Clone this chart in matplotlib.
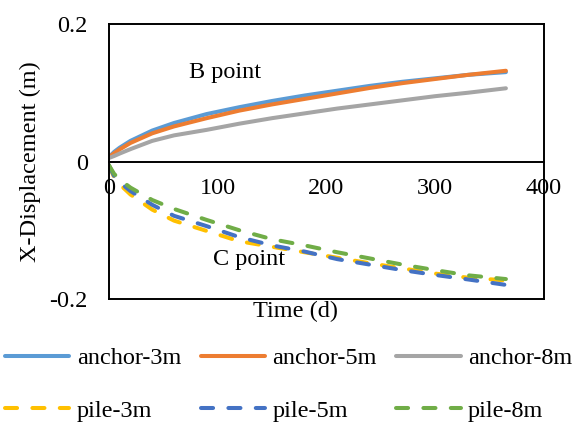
import matplotlib
matplotlib.use('Agg')
import matplotlib.pyplot as plt

plt.rcParams['font.family'] = ['Liberation Serif', 'DejaVu Serif']
plt.rcParams['font.size'] = 17.5

# Time (days) and X-displacement (m) at points B (anchor) and C (pile)
days = [0, 5, 10, 20, 40, 60, 90, 120, 150, 180, 210, 240, 270, 300, 330, 365]

anchor_3m = [0.006, 0.014, 0.020, 0.030, 0.045, 0.056, 0.069, 0.079, 0.088, 0.096,
             0.103, 0.110, 0.116, 0.121, 0.126, 0.130]
anchor_5m = [0.006, 0.012, 0.0175, 0.027, 0.041, 0.051, 0.063, 0.074, 0.083, 0.091,
             0.099, 0.107, 0.114, 0.120, 0.126, 0.132]
anchor_8m = [0.005, 0.008, 0.0115, 0.018, 0.030, 0.038, 0.046, 0.055, 0.063, 0.070,
             0.077, 0.083, 0.089, 0.095, 0.100, 0.1065]

pile_3m = [-0.005, -0.023, -0.033, -0.048, -0.070, -0.086, -0.101, -0.116, -0.124, -0.132,
           -0.140, -0.148, -0.1555, -0.163, -0.169, -0.173]
pile_5m = [-0.005, -0.021, -0.030, -0.043, -0.063, -0.079, -0.094, -0.110, -0.122, -0.131,
           -0.142, -0.150, -0.158, -0.165, -0.1715, -0.1795]
pile_8m = [-0.005, -0.018, -0.026, -0.038, -0.056, -0.069, -0.085, -0.100, -0.113, -0.122,
           -0.132, -0.141, -0.150, -0.158, -0.1655, -0.171]

x_ticks = [0, 100, 200, 300, 400]
y_ticks = [-0.2, 0, 0.2]
y_tick_labels = ['-0.2', '0', '0.2']

fig = plt.figure(figsize=(5.77, 4.22), dpi=100)
ax = fig.add_axes([108.7 / 577, 1 - 299 / 422, 435.3 / 577, 275 / 422])

lw = 2.9
ax.plot(days, anchor_3m, color='#5B9BD5', lw=lw, solid_capstyle='round', label='anchor-3m')
ax.plot(days, anchor_5m, color='#ED7D31', lw=lw, solid_capstyle='round', label='anchor-5m')
ax.plot(days, anchor_8m, color='#A5A5A5', lw=lw, solid_capstyle='round', label='anchor-8m')

dash = (3.0, 3.8)
ax.plot(days, pile_3m, color='#FFC000', lw=lw, dashes=dash, dash_capstyle='round', label='pile-3m')
ax.plot(days, pile_5m, color='#4472C4', lw=lw, dashes=dash, dash_capstyle='round', label='pile-5m')
ax.plot(days, pile_8m, color='#70AD47', lw=lw, dashes=dash, dash_capstyle='round', label='pile-8m')

ax.set_xlim(0, 400)
ax.set_ylim(-0.2, 0.2)
ax.set_xticks(x_ticks)
ax.set_yticks(y_ticks)
ax.set_yticklabels(y_tick_labels)
ax.tick_params(axis='both', length=0)
ax.tick_params(axis='x', pad=12)
ax.tick_params(axis='y', pad=15)

# x axis runs through zero, plot area keeps its frame
ax.spines['bottom'].set_position(('data', 0))
for s in ax.spines.values():
    s.set_linewidth(1.4)
ax.axhline(-0.2, color='black', lw=1.4, clip_on=False, zorder=3)

ax.text(73.8, 0.122, 'B point', ha='left', va='baseline')
ax.text(95.8, -0.150, 'C point', ha='left', va='baseline')

ax.set_xlabel('Time (d)')
ax.xaxis.set_label_coords(0.428, -0.008)
ax.set_ylabel('X-Displacement (m)')
ax.yaxis.set_label_coords(-0.155, 0.5)

h, l = ax.get_legend_handles_labels()
order = [0, 3, 1, 4, 2, 5]
fig.legend([h[i] for i in order], [l[i] for i in order], ncol=3, loc='upper left',
           bbox_to_anchor=(5 / 577, 1 - 347 / 422), frameon=False,
           handlelength=2.65, handletextpad=0.3, columnspacing=0.8,
           labelspacing=1.26, borderpad=0, borderaxespad=0)

fig.savefig('out.png', dpi=100)
